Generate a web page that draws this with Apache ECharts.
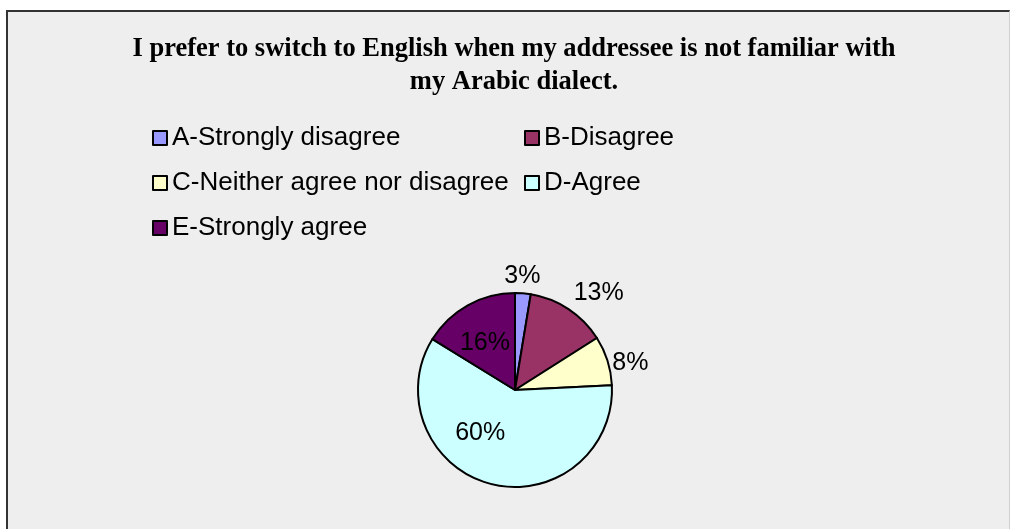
<!DOCTYPE html>
<html>
<head>
<meta charset="utf-8">
<script src="https://cdn.jsdelivr.net/npm/echarts@6/dist/echarts.min.js"></script>
<style>
  html, body { margin: 0; padding: 0; background: #ffffff; }
  #frame { position: absolute; left: 6px; top: 10px; width: 1001px; height: 530px;
           background: #eeeeee; border-top: 2px solid #333333; border-left: 2px solid #333333;
           border-right: 1px solid #cfcfcf; }
  #chart { position: absolute; left: 0; top: 0; width: 1010px; height: 529px; }
</style>
</head>
<body>
<div id="frame"></div>
<div id="chart"></div>
<script>
const titleText = 'I prefer to switch to English when my addressee is not familiar with\nmy Arabic dialect.';
const categories = ['A-Strongly disagree', 'B-Disagree', 'C-Neither agree nor disagree', 'D-Agree', 'E-Strongly agree'];
const values = [2.6, 13.4, 8.2, 59.6, 16.2];
const colors = ['#9999FF', '#993366', '#FFFFCC', '#CCFFFF', '#660066'];
const labelPositions = ['outside', 'outside', 'outside', 'inside', 'inside'];
const leftLegendItems = [categories[0], categories[2], categories[4]];
const rightLegendItems = [categories[1], categories[3]];
// label nudges (style only), to mimic the reference's best-fit placement
const labelNudges = [[-24, -13], [-2, -13], [-4, 4], [-22, -7], [-5, -2]];

const chart = echarts.init(document.getElementById('chart'), null, { renderer: 'canvas' });
const legendCommon = {
  orient: 'vertical',
  top: 125,
  padding: 0,
  itemWidth: 14,
  itemHeight: 14,
  itemGap: 19,
  icon: 'rect',
  textStyle: { fontFamily: 'Liberation Sans, Arial, sans-serif', fontSize: 26, color: '#000000' }
};
chart.setOption({
  backgroundColor: 'transparent',
  animation: false,
  color: colors,
  title: {
    text: titleText,
    left: 514,
    top: 33,
    padding: 0,
    textAlign: 'center',
    textStyle: { fontFamily: 'Liberation Serif, Times New Roman, serif', fontWeight: 'bold', fontSize: 26.5, lineHeight: 33, color: '#000000' }
  },
  legend: [
    Object.assign({}, legendCommon, { left: 152, data: leftLegendItems }),
    Object.assign({}, legendCommon, { left: 524, data: rightLegendItems })
  ],
  series: [{
    type: 'pie',
    center: [515, 390],
    radius: 97,
    startAngle: 90,
    clockwise: true,
    avoidLabelOverlap: false,
    itemStyle: { borderColor: '#000000', borderWidth: 2 },
    labelLine: { show: false, length: 4, length2: 0 },
    label: {
      formatter: p => Math.round(p.value) + '%',
      fontFamily: 'Liberation Sans, Arial, sans-serif',
      fontSize: 25,
      color: '#000000'
    },
    labelLayout: p => ({ dx: labelNudges[p.dataIndex][0], dy: labelNudges[p.dataIndex][1] }),
    data: categories.map((c, i) => ({
      name: c,
      value: values[i],
      itemStyle: { color: colors[i] },
      label: { position: labelPositions[i] }
    }))
  }]
});
</script>
</body>
</html>
